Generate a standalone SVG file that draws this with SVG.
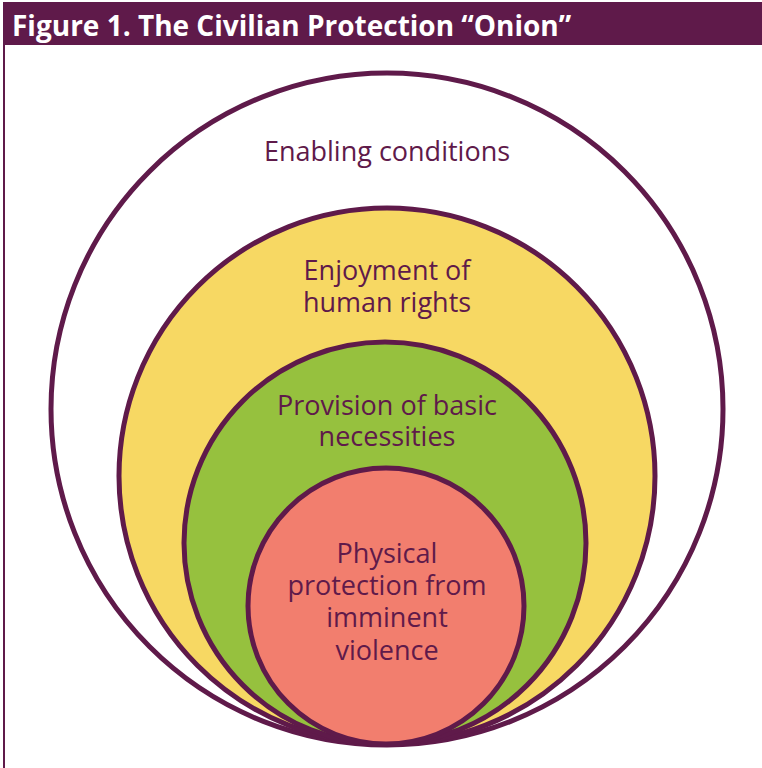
<svg xmlns="http://www.w3.org/2000/svg" width="762" height="768" viewBox="0 0 762 768">
<style>
.ring{stroke:#5f1a4a;stroke-width:5}
.lbl{font-family:"Open Sans","Noto Sans","Liberation Sans",sans-serif;font-size:27px;fill:#5f1a4a;text-anchor:middle}
.title{font-family:"Open Sans","Noto Sans","Liberation Sans",sans-serif;font-size:28px;font-weight:bold;fill:#ffffff}
</style>
<rect x="0" y="0" width="762" height="768" fill="#ffffff"/>
<g id="frame">
<rect x="3" y="2" width="759" height="43" fill="#5f1a4a"/>
<line x1="4" y1="44" x2="4" y2="768" stroke="#5f1a4a" stroke-width="2"/>
<text class="title" x="12" y="36">Figure 1. The Civilian Protection “Onion”</text>
</g>
<g id="enabling">
<circle class="ring" cx="387" cy="409" r="336" fill="#ffffff"/>
<text class="lbl" x="387" y="161">Enabling conditions</text>
</g>
<g id="human-rights">
<circle class="ring" cx="387" cy="476" r="268" fill="#f7d863"/>
<text class="lbl" x="387" y="280">Enjoyment of</text>
<text class="lbl" x="387" y="312">human rights</text>
</g>
<g id="basic-necessities">
<circle class="ring" cx="385" cy="543" r="201" fill="#96c13e"/>
<text class="lbl" x="387" y="415">Provision of basic</text>
<text class="lbl" x="387" y="446">necessities</text>
</g>
<g id="physical-protection">
<circle class="ring" cx="386" cy="606" r="138" fill="#f27e6e"/>
<text class="lbl" x="387" y="563">Physical</text>
<text class="lbl" x="387" y="595">protection from</text>
<text class="lbl" x="387" y="627">imminent</text>
<text class="lbl" x="387" y="660">violence</text>
</g>
<g id="connectors"></g>
</svg>
